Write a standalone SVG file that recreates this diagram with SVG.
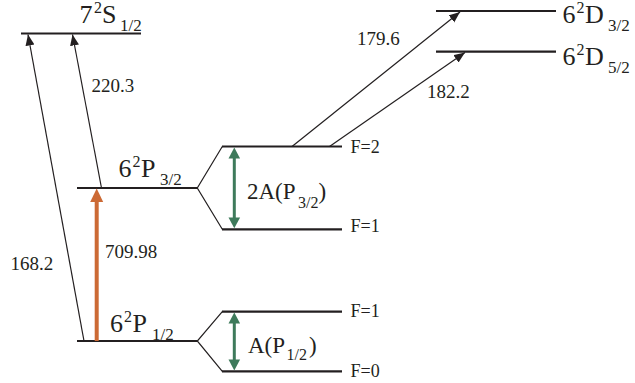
<svg xmlns="http://www.w3.org/2000/svg" width="635" height="383" viewBox="0 0 635 383">
<defs>
<style>
.lvl{stroke:#231f20;stroke-width:2.2;fill:none}
.fan{stroke:#231f20;stroke-width:1.2;fill:none}
.tr{stroke:#231f20;stroke-width:1.2;fill:none;marker-end:url(#ah)}
text{font-family:'Liberation Serif','Times New Roman','DejaVu Serif',serif;fill:#231f20}
.big{font-size:26px}
.sup{font-size:16px}
.sub{font-size:17px}
.num{font-size:19px}
.f{font-size:18px}
.hf{font-size:23px}
.hfs{font-size:16px}
.grn{stroke:#3e7a5b;stroke-width:3;fill:none}
</style>
<marker id="ah" markerUnits="userSpaceOnUse" markerWidth="12" markerHeight="10" refX="11" refY="4.5" orient="auto">
<path d="M0,0 L11,4.5 L0,9 z" fill="#231f20"/>
</marker>
</defs>
<g id="S12">
<line class="lvl" x1="21" y1="33.5" x2="141" y2="33.5"/>
<text font-family="Liberation Serif, serif"><tspan class="big" x="79.5" y="23">7</tspan><tspan class="sup" x="94" y="13">2</tspan><tspan class="big" x="102" y="23">S</tspan><tspan class="sub" x="120" y="31">1/2</tspan></text>
</g>
<g id="P32">
<line class="lvl" x1="77" y1="188" x2="197.5" y2="188"/>
<text font-family="Liberation Serif, serif"><tspan class="big" x="118.5" y="177">6</tspan><tspan class="sup" x="132.5" y="167">2</tspan><tspan class="big" x="141" y="177">P</tspan><tspan class="sub" x="160" y="184.5">3/2</tspan></text>
</g>
<g id="P12">
<line class="lvl" x1="77" y1="341" x2="197.5" y2="341"/>
<text font-family="Liberation Serif, serif"><tspan class="big" x="110" y="332">6</tspan><tspan class="sup" x="124" y="322">2</tspan><tspan class="big" x="132.5" y="332">P</tspan><tspan class="sub" x="152" y="339.5">1/2</tspan></text>
</g>
<g id="D32">
<line class="lvl" x1="436" y1="11" x2="556" y2="11"/>
<text font-family="Liberation Serif, serif"><tspan class="big" x="562.5" y="23">6</tspan><tspan class="sup" x="576.5" y="13">2</tspan><tspan class="big" x="585" y="23">D</tspan><tspan class="sub" x="608" y="31">3/2</tspan></text>
</g>
<g id="D52">
<line class="lvl" x1="436" y1="51.7" x2="556" y2="51.7"/>
<text font-family="Liberation Serif, serif"><tspan class="big" x="562.5" y="64.5">6</tspan><tspan class="sup" x="576.5" y="54.5">2</tspan><tspan class="big" x="585" y="64.5">D</tspan><tspan class="sub" x="608" y="72.5">5/2</tspan></text>
</g>
<g id="P32F2">
<line class="lvl" x1="222" y1="146.5" x2="342" y2="146.5"/>
<text class="f" font-family="Liberation Serif, serif" x="350.5" y="152.5">F=2</text>
</g>
<g id="P32F1">
<line class="lvl" x1="222" y1="229.3" x2="342" y2="229.3"/>
<text class="f" font-family="Liberation Serif, serif" x="350.5" y="232">F=1</text>
</g>
<g id="P12F1">
<line class="lvl" x1="222" y1="311.7" x2="342" y2="311.7"/>
<text class="f" font-family="Liberation Serif, serif" x="350.5" y="317">F=1</text>
</g>
<g id="P12F0">
<line class="lvl" x1="222" y1="371.3" x2="342" y2="371.3"/>
<text class="f" font-family="Liberation Serif, serif" x="350.5" y="377">F=0</text>
</g>
<g id="connectors">
<path class="fan" d="M222.3,146.5 L197.3,188 L222.3,229.3"/>
<path class="fan" d="M222.3,311.7 L197.3,341 L222.3,371.3"/>
<line class="tr" x1="84" y1="341" x2="28" y2="34.5"/>
<line class="tr" x1="101.5" y1="188" x2="72.5" y2="34.5"/>
<line class="tr" x1="292" y1="146.5" x2="460" y2="12"/>
<line class="tr" x1="329.5" y1="146.5" x2="465" y2="52.5"/>
<line x1="96.7" y1="341" x2="96.7" y2="200" stroke="#cc6a35" stroke-width="4"/>
<polygon points="96.7,188.5 90.2,202 103.2,202" fill="#cc6a35"/>
<line class="grn" x1="234.3" y1="157" x2="234.3" y2="219"/>
<polygon points="234.3,147.5 228.5,158.5 240.1,158.5" fill="#3e7a5b"/>
<polygon points="234.3,228.3 228.5,217.5 240.1,217.5" fill="#3e7a5b"/>
<line class="grn" x1="234.3" y1="322" x2="234.3" y2="361"/>
<polygon points="234.3,312.5 228.5,323.5 240.1,323.5" fill="#3e7a5b"/>
<polygon points="234.3,370.5 228.5,359.5 240.1,359.5" fill="#3e7a5b"/>
<text class="num" font-family="Liberation Serif, serif" x="91.5" y="92">220.3</text>
<text class="num" font-family="Liberation Serif, serif" x="10.5" y="270">168.2</text>
<text class="num" font-family="Liberation Serif, serif" x="105" y="258">709.98</text>
<text class="num" font-family="Liberation Serif, serif" x="357" y="45">179.6</text>
<text class="num" font-family="Liberation Serif, serif" x="427" y="98">182.2</text>
<text class="hf" font-family="Liberation Serif, serif"><tspan x="247" y="199.3">2A(P</tspan><tspan class="hfs" x="298" y="207.5">3/2</tspan><tspan x="318.5" y="199.3">)</tspan></text>
<text class="hf" font-family="Liberation Serif, serif"><tspan x="248" y="352.7">A(P</tspan><tspan class="hfs" x="286.5" y="360">1/2</tspan><tspan x="309" y="352.7">)</tspan></text>
</g>
</svg>
